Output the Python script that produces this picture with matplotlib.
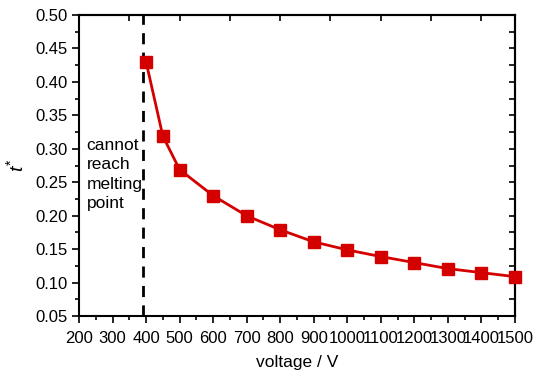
import matplotlib
matplotlib.use("Agg")
import matplotlib.pyplot as plt
from matplotlib.ticker import MultipleLocator, FixedLocator

plt.rcParams['font.family'] = ['Liberation Sans', 'DejaVu Sans']
plt.rcParams['mathtext.fontset'] = 'custom'
plt.rcParams['mathtext.it'] = 'Liberation Sans:italic'
plt.rcParams['mathtext.rm'] = 'Liberation Sans'

# data
voltage = [400, 450, 500, 600, 700, 800, 900, 1000, 1100, 1200, 1300, 1400, 1500]
t_star = [0.430, 0.319, 0.269, 0.230, 0.200, 0.179, 0.161, 0.149, 0.139, 0.130, 0.121, 0.115, 0.109]
limit_voltage = 390
note = "cannot\nreach\nmelting\npoint"

fig = plt.figure(figsize=(5.42, 3.75), dpi=100)
ax = fig.add_axes([0.1458, 0.157, 0.8042, 0.803])

ax.plot(voltage, t_star, color='#d40000', lw=2, marker='s', ms=8,
        mec='#d40000', mfc='#d40000', clip_on=False, zorder=3)
ax.axvline(limit_voltage, color='black', ls=(0, (4, 3)), lw=2)
ax.text(223, 0.316, note, fontsize=12.5, va='top', ha='left', linespacing=1.35)

ax.set_xlim(200, 1500)
ax.set_ylim(0.05, 0.50)
ax.set_xticks(range(200, 1501, 100))
ax.set_yticks([0.05, 0.10, 0.15, 0.20, 0.25, 0.30, 0.35, 0.40, 0.45, 0.50])
ax.set_yticklabels(['%.2f' % v for v in ax.get_yticks()])
ax.xaxis.set_minor_locator(MultipleLocator(50))
ax.yaxis.set_minor_locator(MultipleLocator(0.025))
ax.tick_params(which='both', direction='out', labelsize=12, width=1.2)
ax.tick_params(axis='y', pad=3)
ax.tick_params(axis='x', pad=6)
ax.tick_params(which='major', length=5)
ax.tick_params(which='minor', length=3)

ax.set_xlabel('voltage / V', fontsize=12.5, labelpad=6)
ax.set_ylabel(r'$t^{*}$', fontsize=14, labelpad=6)

# top and right ticks pointing inward
top = ax.secondary_xaxis('top')
top.xaxis.set_major_locator(FixedLocator(range(350, 1401, 150)))
top.tick_params(direction='in', length=4, width=1.2, labeltop=False)
right = ax.secondary_yaxis('right')
right.yaxis.set_major_locator(MultipleLocator(0.025))
right.tick_params(direction='in', length=4, width=1.2, labelright=False)

for s in ax.spines.values():
    s.set_linewidth(1.5)
for s in list(top.spines.values()) + list(right.spines.values()):
    s.set_linewidth(1.5)

fig.savefig('out.png', dpi=100)
